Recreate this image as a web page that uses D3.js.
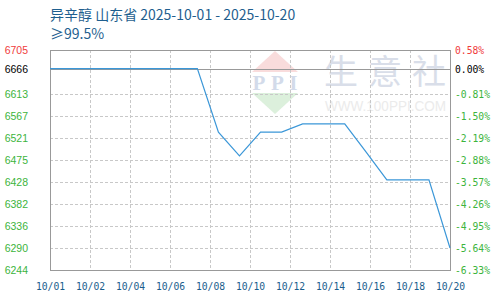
<!DOCTYPE html>
<html>
<head>
<meta charset="utf-8">
<script src="https://cdn.jsdelivr.net/npm/d3@7"></script>
<style>
  body { margin: 0; background: #fff; }
  svg { display: block; }
</style>
</head>
<body>
<div id="chart"></div>
<script>
//-------------------------DATA-------------------------//
var dates = ["10/01","10/02","10/03","10/04","10/05","10/06","10/07","10/08","10/09","10/10",
             "10/11","10/12","10/13","10/14","10/15","10/16","10/17","10/18","10/19","10/20"];
var prices = [6666,6666,6666,6666,6666,6666,6666,6666,6533,6483,
              6533,6533,6550,6550,6550,6492,6433,6433,6433,6290];
var xTickLabels = ["10/01","10/02","10/04","10/06","10/08","10/10","10/12","10/14","10/16","10/18","10/20"];
var yTicks = [6244,6290,6336,6382,6428,6475,6521,6567,6613,6666,6705];
var pctLabels = ["-6.33%","-5.64%","-4.95%","-4.26%","-3.57%","-2.88%","-2.19%","-1.50%","-0.81%","0.00%","0.58%"];
var baseValue = 6666;
var title = "异辛醇 山东省 2025-10-01 - 2025-10-20";
var subtitle = "≥99.5%";

//-------------------------SETUP------------------------//
var W = 500, H = 300;
var plotL = 50, plotR = 450, plotT = 50, plotB = 270;

var svg = d3.select("#chart").append("svg")
    .attr("width", W)
    .attr("height", H);

var x = d3.scaleLinear().domain([0, dates.length - 1]).range([plotL, plotR]);
var y = d3.scaleLinear().domain([6244, 6705]).range([plotB, plotT]);

function labelColor(v) {
    if (v > baseValue) return "#f03c3c";
    if (v == baseValue) return "#000";
    return "#3cb43c";
}

//-----------------------WATERMARK----------------------//
var wm = svg.append("g");
wm.append("path")
    .attr("d", "M252,72 L275,51 L298,72 Z")
    .attr("fill", "#f9dcdc");
wm.append("path")
    .attr("d", "M252,93 L275,114 L298,93 Z")
    .attr("fill", "#dcf0dc");
wm.append("text")
    .attr("x", 275).attr("y", 90)
    .attr("text-anchor", "middle")
    .attr("font-family", "Liberation Serif, serif")
    .attr("font-weight", "bold")
    .attr("font-size", 21)
    .attr("textLength", 45)
    .attr("fill", "#d3dbea")
    .text("PPI");
wm.append("text")
    .attr("x", 324).attr("y", 84)
    .attr("font-family", "Noto Sans CJK SC, sans-serif")
    .attr("font-size", 34)
    .attr("textLength", 122)
    .attr("fill", "#d9dee9")
    .text("生意社");
wm.append("text")
    .attr("x", 325).attr("y", 111)
    .attr("font-family", "Liberation Sans, Arial, sans-serif")
    .attr("font-size", 14)
    .attr("textLength", 121)
    .attr("lengthAdjust", "spacingAndGlyphs")
    .attr("fill", "#ebebeb")
    .text("WWW.100PPI.COM");

//-------------------------GRID-------------------------//
var xTickVals = d3.range(xTickLabels.length).map(function(k) { return k * (dates.length - 1) / (xTickLabels.length - 1); });

svg.append("g")
    .selectAll("line")
    .data(xTickVals.slice(1, -1))
    .enter().append("line")
    .attr("x1", function(d) { return Math.round(x(d)) + 0.5; })
    .attr("x2", function(d) { return Math.round(x(d)) + 0.5; })
    .attr("y1", plotT).attr("y2", plotB)
    .attr("stroke", "#c8c8c8")
    .attr("stroke-dasharray", "3,2");

svg.append("g")
    .selectAll("line")
    .data(yTicks.filter(function(v) { return v != baseValue && v != 6244 && v != 6705; }))
    .enter().append("line")
    .attr("x1", plotL).attr("x2", plotR)
    .attr("y1", function(d) { return Math.round(y(d)) + 0.5; })
    .attr("y2", function(d) { return Math.round(y(d)) + 0.5; })
    .attr("stroke", "#c8c8c8")
    .attr("stroke-dasharray", "3,2");

// base line
svg.append("line")
    .attr("x1", plotL).attr("x2", plotR)
    .attr("y1", Math.round(y(baseValue)) + 0.5)
    .attr("y2", Math.round(y(baseValue)) + 0.5)
    .attr("stroke", "#999");

// border
svg.append("rect")
    .attr("x", plotL + 0.5).attr("y", plotT + 0.5)
    .attr("width", plotR - plotL).attr("height", plotB - plotT)
    .attr("fill", "none")
    .attr("stroke", "#999");

//-------------------------LINE-------------------------//
var line = d3.line()
    .x(function(d, i) { return x(i); })
    .y(function(d) { return y(d); });

svg.append("path")
    .datum(prices)
    .attr("d", line)
    .attr("fill", "none")
    .attr("stroke", "#3b97d8")
    .attr("stroke-width", 1.2);

//-------------------------AXES-------------------------//
var yAxisL = d3.axisLeft(y)
    .tickValues(yTicks)
    .tickSize(0)
    .tickPadding(0)
    .tickFormat(function(d) { return d; });

var gl = svg.append("g")
    .attr("transform", "translate(28,0)")
    .call(yAxisL);
gl.select(".domain").remove();
gl.selectAll("text")
    .attr("font-family", "Liberation Sans, Arial, sans-serif")
    .attr("font-size", 10.5)
    .attr("dy", "0.36em")
    .attr("fill", function(d) { return labelColor(d); });

var yAxisR = d3.axisRight(y)
    .tickValues(yTicks)
    .tickSize(0)
    .tickPadding(0)
    .tickFormat(function(d, i) { return pctLabels[i]; });

var gr = svg.append("g")
    .attr("transform", "translate(455,0)")
    .call(yAxisR);
gr.select(".domain").remove();
gr.selectAll("text")
    .attr("font-family", "DejaVu Sans Mono, monospace")
    .attr("font-size", 9.7)
    .attr("dy", "0.36em")
    .attr("fill", function(d) { return labelColor(d); });

var xAxis = d3.axisBottom(x)
    .tickValues(xTickVals)
    .tickSize(0)
    .tickPadding(0)
    .tickFormat(function(d, i) { return xTickLabels[i]; });

var gx = svg.append("g")
    .attr("transform", "translate(0,283)")
    .call(xAxis);
gx.select(".domain").remove();
gx.selectAll("text")
    .attr("font-family", "DejaVu Sans Mono, monospace")
    .attr("font-size", 9.7)
    .attr("fill", "#1a5d8c");

//-------------------------TITLE------------------------//
svg.append("text")
    .attr("x", 50).attr("y", 20)
    .attr("font-family", "Noto Sans CJK SC, sans-serif")
    .attr("font-size", 14)
    .attr("fill", "#1f5f8f")
    .text(title);

svg.append("text")
    .attr("x", 50).attr("y", 39)
    .attr("font-family", "Noto Sans CJK SC, sans-serif")
    .attr("font-size", 14)
    .attr("fill", "#1f5f8f")
    .text(subtitle);
</script>
</body>
</html>
